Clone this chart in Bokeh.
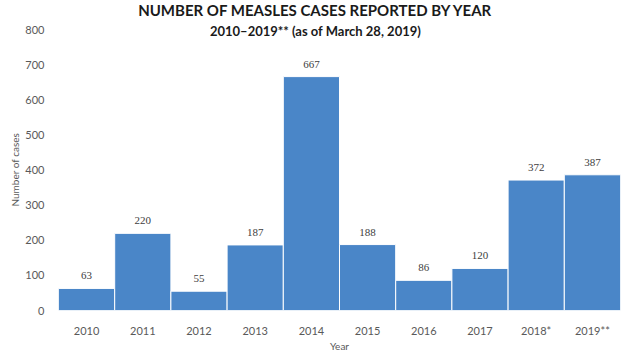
from bokeh.plotting import figure
from bokeh.models import ColumnDataSource, Label, FixedTicker, LabelSet, Title
from bokeh.embed import file_html
from bokeh.resources import INLINE

years = ["2010", "2011", "2012", "2013", "2014", "2015", "2016", "2017", "2018*", "2019**"]
cases = [63, 220, 55, 187, 667, 188, 86, 120, 372, 387]
yticks = [0, 100, 200, 300, 400, 500, 600, 700, 800]
title_text = "NUMBER OF MEASLES CASES REPORTED BY YEAR"
subtitle_text = "2010\u20132019** (as of March 28, 2019)"

FONT = "Lato"
GREY = "#595959"

src = ColumnDataSource(dict(years=years, cases=cases, lbl=[str(c) for c in cases]))

p = figure(width=630, height=354, x_range=years, y_range=(0, 884),
           output_backend="svg", toolbar_location=None,
           min_border_left=58, min_border_right=10, min_border_top=0, min_border_bottom=0)
p.vbar(x="years", top="cases", width=1.0, source=src,
       fill_color="#4a86c8", line_color="white", line_width=1.0)

labels = LabelSet(x="years", y="cases", text="lbl", source=src, text_align="center",
                  text_baseline="bottom", y_offset=9, text_font=FONT,
                  text_font_size="11px", text_color="#404040")
p.add_layout(labels)

p.yaxis.ticker = FixedTicker(ticks=yticks)
for ax in (p.xaxis[0], p.yaxis[0]):
    ax.axis_line_color = None
    ax.major_tick_line_color = None
    ax.minor_tick_line_color = None
    ax.major_tick_out = 0
    ax.major_tick_in = 0
    ax.minor_tick_out = 0
    ax.major_label_text_font = FONT
    ax.major_label_text_font_size = "11px"
    ax.major_label_text_color = GREY
    ax.axis_label_text_font = FONT
    ax.axis_label_text_font_size = "10px"
    ax.axis_label_text_font_style = "normal"
    ax.axis_label_text_color = GREY
p.xaxis.axis_label = "Year"
p.yaxis.major_label_standoff = 14
p.xaxis.major_label_standoff = 13
p.xaxis.axis_label_standoff = 0

ytitle = Title(text="Number of cases", align="left", offset=104, text_font=FONT,
               text_font_size="10px", text_font_style="normal", text_color=GREY,
               standoff=4)
p.add_layout(ytitle, "left")

p.xgrid.grid_line_color = None
p.ygrid.grid_line_color = None
p.outline_line_color = None
p.x_range.range_padding = 0

p.add_layout(Label(x=5, y=857, x_offset=-24, text=title_text,
                   text_align="center", text_baseline="middle", text_font=FONT,
                   text_font_size="15px", text_font_style="bold", text_color="#1a1a1a"))
p.add_layout(Label(x=5, y=798, x_offset=-24, text=subtitle_text,
                   text_align="center", text_baseline="middle", text_font=FONT,
                   text_font_size="13px", text_font_style="bold", text_color="#1a1a1a"))

open("out.html", "w").write(file_html(p, INLINE))
